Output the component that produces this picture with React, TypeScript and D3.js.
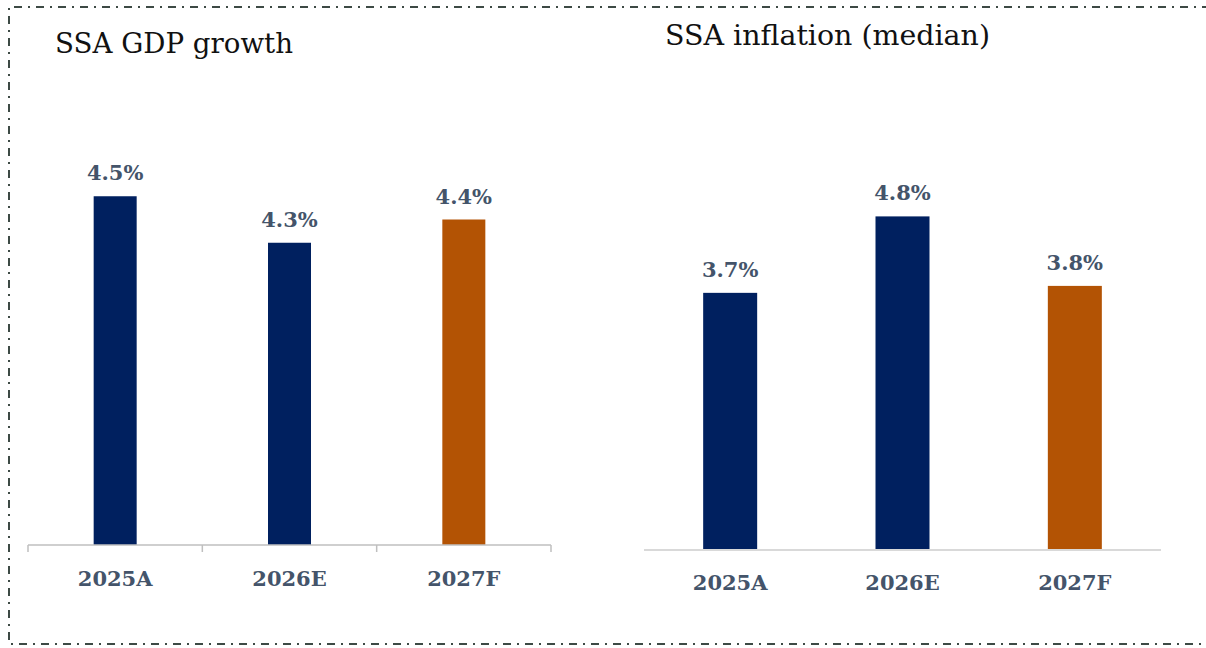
import React from "react";
import * as d3 from "d3";

const categories = ["2025A", "2026E", "2027F"];
const gdpValues = [4.5, 4.3, 4.4];
const inflationValues = [3.7, 4.8, 3.8];
const barColors = ["#00205f", "#00205f", "#b35304"];
const gdpTitle = "SSA GDP growth";
const inflationTitle = "SSA inflation (median)";

const W = 1206;
const H = 648;
const labelColor = "#44546a";
const labelFont = "'DejaVu Serif', serif";

export default function App() {
  // Left chart scales
  const xL = d3.scaleBand<string>().domain(categories).range([28, 551]).paddingInner(0).paddingOuter(0);
  const yL = d3.scaleLinear().domain([3, 5]).range([545, 80]);
  const barWL = 43;

  // Right chart scales
  const xR = d3.scaleBand<string>().domain(categories).range([644, 1161]);
  const yR = d3.scaleLinear().domain([0, 6]).range([550, 133]);
  const barWR = 54;

  const tickXs = [...categories.map((c) => xL(c)!), 551];

  return (
    <svg
      width={W}
      height={H}
      style={{ position: "absolute", left: 0, top: 0, background: "#fff" }}
    >
      <path
        d={`M1210,7 L9,7 L9,644 L1210,644`}
        fill="none"
        stroke="#3d4a45"
        strokeWidth={2}
        strokeDasharray="8,6,2,6"
      />
      {/* Left chart */}
      <text x={55} y={53} fontFamily="'DejaVu Serif', serif" fontSize={27} fill="#111" textLength={238} lengthAdjust="spacingAndGlyphs">
        {gdpTitle}
      </text>
      {categories.map((c, i) => {
        const cx = xL(c)! + xL.bandwidth() / 2;
        const top = yL(gdpValues[i]);
        return (
          <g key={"l" + c}>
            <rect x={cx - barWL / 2} y={top} width={barWL} height={yL(3) - top} fill={barColors[i]} />
            <text x={cx} y={top - 16} textAnchor="middle" fontFamily={labelFont} fontWeight="bold" fontSize={21} fill={labelColor}>
              {gdpValues[i].toFixed(1)}%
            </text>
            <text x={cx} y={586} textAnchor="middle" fontFamily={labelFont} fontWeight="bold" fontSize={21} fill={labelColor}>
              {c}
            </text>
          </g>
        );
      })}
      <line x1={28} x2={551} y1={yL(3)} y2={yL(3)} stroke="#bfbfbf" strokeWidth={1.5} />
      {tickXs.map((x, i) => (
        <line key={"t" + i} x1={x} x2={x} y1={yL(3)} y2={yL(3) + 7} stroke="#bfbfbf" strokeWidth={1.5} />
      ))}

      {/* Right chart */}
      <text x={665} y={45} fontFamily="'DejaVu Serif', serif" fontSize={27} fill="#111" textLength={325} lengthAdjust="spacingAndGlyphs">
        {inflationTitle}
      </text>
      {categories.map((c, i) => {
        const cx = xR(c)! + xR.bandwidth() / 2;
        const top = yR(inflationValues[i]);
        return (
          <g key={"r" + c}>
            <rect x={cx - barWR / 2} y={top} width={barWR} height={yR(0) - top} fill={barColors[i]} />
            <text x={cx} y={top - 16} textAnchor="middle" fontFamily={labelFont} fontWeight="bold" fontSize={21} fill={labelColor}>
              {inflationValues[i].toFixed(1)}%
            </text>
            <text x={cx} y={590} textAnchor="middle" fontFamily={labelFont} fontWeight="bold" fontSize={21} fill={labelColor}>
              {c}
            </text>
          </g>
        );
      })}
      <line x1={644} x2={1161} y1={yR(0)} y2={yR(0)} stroke="#d9d9d9" strokeWidth={2} />
    </svg>
  );
}
